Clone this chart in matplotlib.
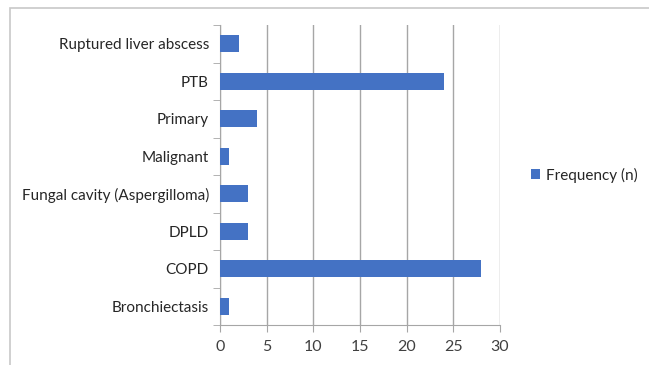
import matplotlib
matplotlib.use("Agg")
import matplotlib.pyplot as plt
from matplotlib.patches import Rectangle

categories = ["Bronchiectasis", "COPD", "DPLD", "Fungal cavity (Aspergilloma)",
              "Malignant", "Primary", "PTB", "Ruptured liver abscess"]
frequency = [1, 28, 3, 3, 1, 4, 24, 2]
x_ticks = [0, 5, 10, 15, 20, 25, 30]

plt.rcParams['font.family'] = ['Lato', 'DejaVu Sans']

fig = plt.figure(figsize=(6.49, 3.65), dpi=100)
fig.patch.set_facecolor("white")

# outer chart border
fig.add_artist(Rectangle((10 / 649, -0.1), 1.2, 1 - 8 / 365 + 0.1,
                         transform=fig.transFigure, fill=False,
                         edgecolor="#c8c8c8", linewidth=1.2))

ax = fig.add_axes([220 / 649, 40 / 365, 280 / 649, 300 / 365])
pos = list(range(len(categories)))
ax.barh(pos, frequency, height=0.45, color="#4472C4", label="Frequency (n)", zorder=3)

ax.set_xlim(0, 30)
ax.set_ylim(-0.5, len(categories) - 0.5)
ax.set_xticks(x_ticks)
ax.set_xticklabels([str(t) for t in x_ticks], fontsize=11.5, color="#404040")
ax.set_yticks(pos)
ax.set_yticklabels(categories, fontsize=11, color="#262626")
ax.set_yticks([p - 0.5 for p in pos] + [len(categories) - 0.5], minor=True)
ax.tick_params(axis="y", which="major", length=0, pad=8)
ax.tick_params(axis="y", which="minor", length=5, color="#a6a6a6", direction="out")
ax.tick_params(axis="x", length=5, color="#a6a6a6", direction="out", pad=6)

ax.grid(axis="x", color="#a6a6a6", linewidth=1, zorder=0)
for side in ["top", "right"]:
    ax.spines[side].set_visible(False)
for side in ["left", "bottom"]:
    ax.spines[side].set_color("#a6a6a6")

ax.legend(loc="center left", bbox_to_anchor=(1.06, 0.5), frameon=False,
          fontsize=11, handlelength=0.6, handleheight=0.6, handletextpad=0.4,
          labelcolor="#262626")

fig.savefig("out.png", dpi=100)
